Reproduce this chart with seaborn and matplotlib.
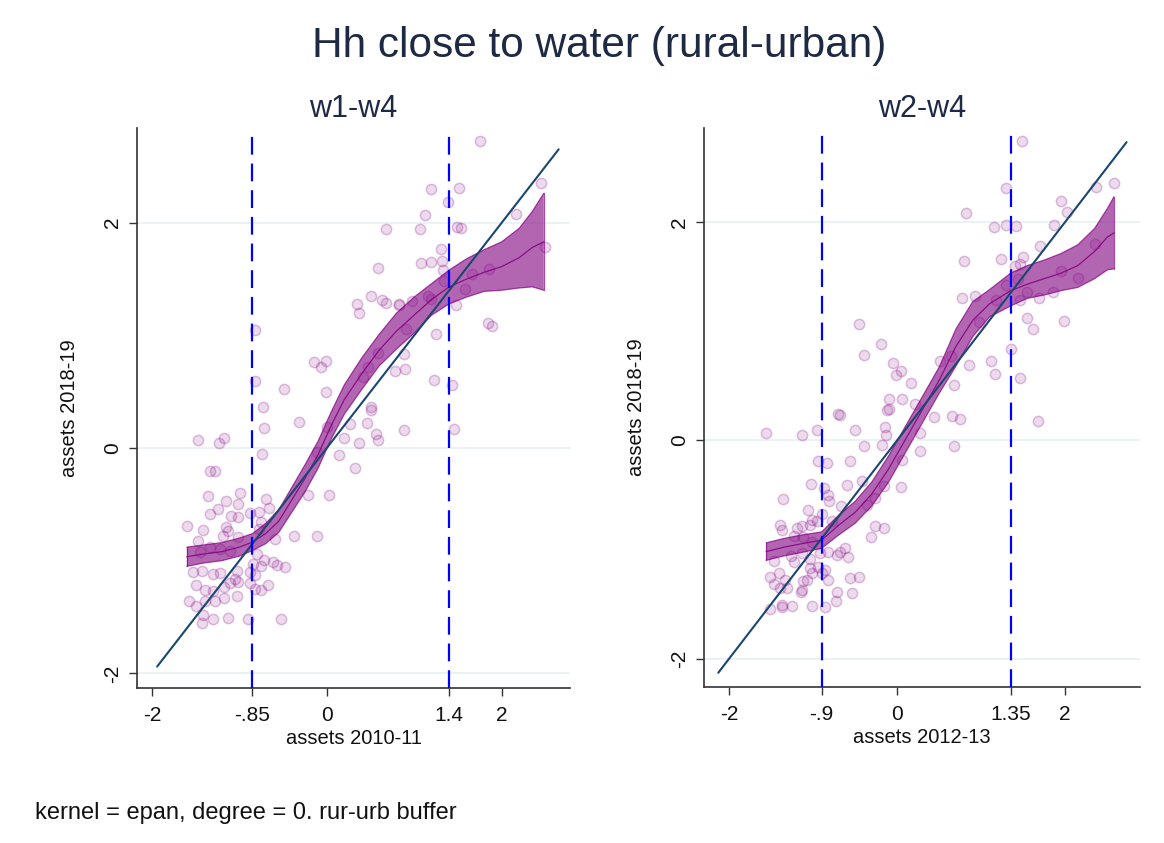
import numpy as np
import pandas as pd
import matplotlib
matplotlib.use("Agg")
import matplotlib.pyplot as plt
import seaborn as sns

# ---- scatter: w1-w4 (assets 2010-11 vs 2018-19) ----
w1_x = [1.75, 1.19, 1.51, 1.38, 1.12, 1.07, 1.49, 1.53, 2.16, 2.45, 2.49, 1.31, 1.08, 1.19, 1.32, 1.33,
        1.34, 1.66, 1.85, 1.58, 1.48, 1.16, 1.19, 0.97, 0.83, 0.90, 1.25, 1.84, 1.89, 0.88, 0.89, 1.22,
        1.43, 0.88, 1.45, 0.59, 0.50, 0.34, 0.37, 0.63, 0.68, 0.82, 0.58, 0.78, 0.47, 0.41, -0.15, -0.07,
        -0.01, -0.49, -0.01, 0.50, 0.50, 0.26, 0.46, -0.32, 0.00, 0.20, 0.37, 0.56, 0.59, 0.14, 0.32,
        -0.11, 0.03, -0.22, -0.38, -0.11, -0.72, -1.47, -1.23, -1.17, -0.74, -1.34, -1.28, -1.36, -1.15,
        -0.99, -1.01, -0.69, -0.66, -1.24, -1.34, -1.09, -1.02, -0.88, -0.77, -1.60, -1.42, -1.15, -1.13,
        -1.19, -0.75, -0.77, -1.47, -1.01, -0.59, -1.45, -1.34, -1.22, -1.11, -0.80, -0.72, -0.62, -0.57,
        -0.48, -0.84, -0.75, -1.53, -1.43, -1.30, -1.22, -1.03, -1.05, -0.88, -0.82, -0.88, -1.49, -1.39,
        -1.30, -1.17, -1.11, -1.01, -0.67, -0.75, -0.82, -1.57, -1.49, -1.39, -1.28, -1.17, -1.03, -1.41,
        -1.30, -1.13, -0.90, -0.52, -1.43, -0.73, -0.82, -0.82, 0.68]
w1_y = [2.72, 2.30, 2.31, 2.18, 2.07, 1.94, 1.96, 1.95, 2.08, 2.35, 1.78, 1.77, 1.64, 1.65, 1.66, 1.58,
        1.48, 1.54, 1.59, 1.41, 1.27, 1.35, 1.32, 1.30, 1.28, 1.06, 1.01, 1.11, 1.08, 0.83, 0.70, 0.60,
        0.56, 0.16, 0.17, 1.60, 1.35, 1.28, 1.20, 1.31, 1.29, 1.27, 0.84, 0.68, 0.72, 0.63, 0.76, 0.72,
        0.77, 0.52, 0.50, 0.36, 0.34, 0.21, 0.22, 0.23, 0.19, 0.09, 0.04, 0.12, 0.07, -0.06, -0.18,
        -0.04, -0.42, -0.42, -0.78, -0.78, 0.18, 0.07, 0.04, 0.09, -0.05, -0.20, -0.20, -0.43, -0.47,
        -0.40, -0.50, -0.45, -0.53, -0.54, -0.59, -0.60, -0.61, -0.58, -0.57, -0.69, -0.73, -0.70, -0.74,
        -0.78, -0.66, -0.72, -0.83, -0.79, -0.81, -0.92, -0.88, -0.90, -0.91, -0.94, -0.99, -1.01, -1.04,
        -1.06, -1.03, -1.05, -1.10, -1.09, -1.12, -1.11, -1.09, -1.16, -1.10, -1.13, -1.20, -1.22, -1.26,
        -1.27, -1.23, -1.20, -1.19, -1.22, -1.26, -1.25, -1.36, -1.40, -1.36, -1.36, -1.33, -1.31, -1.48,
        -1.52, -1.51, -1.52, -1.52, -1.55, 0.36, 1.05, 0.59, 1.94]

# ---- scatter: w2-w4 (assets 2012-13 vs 2018-19) ----
w2_x = [1.48, 1.29, 0.82, 1.15, 1.29, 1.41, 1.95, 2.02, 1.87, 2.37, 2.58, 1.70, 2.36, 0.80, 1.24, 1.50,
        1.40, 1.46, 1.95, 2.15, 1.29, 1.44, 0.77, 0.93, 1.17, 1.54, 1.69, 1.85, 1.46, 0.97, 1.54, 1.62,
        1.99, 1.35, 0.86, 1.12, 1.16, 1.46, 0.75, 1.67, -0.46, -0.19, -0.39, -0.05, -0.02, 0.04, 0.16,
        0.51, 0.64, 0.67, -0.10, -0.10, 0.06, 0.21, 0.44, 0.65, -0.68, -0.50, -0.14, -0.13, -0.40, -0.18,
        0.27, 0.27, 0.67, 0.06, -0.56, -0.60, -0.42, -0.16, 0.04, -0.36, -0.26, -0.27, -0.16, -0.31,
        -0.62, -0.58, -0.68, -1.56, -1.13, -0.96, -0.70, -0.12, -0.94, -0.83, -1.03, -0.87, -0.82, -0.81,
        -0.67, -1.36, -1.06, -0.90, -1.02, -0.96, -0.78, -1.39, -1.37, -1.19, -1.13, -1.04, -1.23, -1.12,
        -1.02, -0.72, -1.47, -1.27, -1.13, -1.04, -0.92, -0.82, -1.23, -1.04, -0.94, -0.86, -0.82, -0.90,
        -1.02, -1.07, -1.12, -1.13, -1.15, -1.51, -1.41, -1.33, -1.47, -1.31, -1.39, -0.56, -0.46, -0.72,
        -0.54, -0.73, -1.51, -1.37, -1.37, -1.25, -1.02, -0.86]
w2_y = [2.74, 2.31, 2.08, 1.95, 1.97, 1.96, 2.19, 2.09, 1.97, 2.32, 2.36, 1.78, 1.80, 1.64, 1.66, 1.68,
        1.60, 1.61, 1.55, 1.49, 1.42, 1.48, 1.30, 1.32, 1.28, 1.36, 1.30, 1.36, 1.28, 1.08, 1.12, 1.02,
        1.09, 0.84, 0.69, 0.73, 0.61, 0.57, 0.19, 0.18, 1.06, 0.88, 0.78, 0.71, 0.60, 0.63, 0.52,
        0.73, 0.77, 0.51, 0.38, 0.29, 0.38, 0.33, 0.21, 0.22, 0.23, 0.09, 0.12, 0.05, -0.05, -0.04,
        0.07, -0.10, -0.05, -0.18, -0.19, -0.41, -0.37, -0.42, -0.43, -0.59, -0.53, -0.79, -0.80, -0.89,
        -0.99, -1.07, -1.02, 0.07, 0.05, 0.09, 0.24, 0.28, -0.19, -0.21, -0.40, -0.44, -0.50, -0.56,
        -0.60, -0.54, -0.64, -0.68, -0.73, -0.74, -0.74, -0.78, -0.82, -0.80, -0.79, -0.78, -0.88, -0.89,
        -0.93, -1.05, -1.11, -1.06, -1.03, -1.09, -1.03, -1.02, -1.12, -1.17, -1.16, -1.19, -1.28, -1.22,
        -1.22, -1.28, -1.29, -1.37, -1.39, -1.25, -1.22, -1.28, -1.32, -1.35, -1.35, -1.26, -1.25, -1.39,
        -1.40, -1.47, -1.55, -1.51, -1.53, -1.52, -1.52, -1.53]

# ---- local-mean fits with 95% bands ----
w1_fit_x = [-1.60, -1.40, -1.20, -1.00, -0.85, -0.70, -0.55, -0.40, -0.25, -0.10, 0.05, 0.20,
            0.40, 0.60, 0.80, 1.00, 1.20, 1.40, 1.60, 1.80, 2.00, 2.20, 2.35, 2.48]
w1_fit = [-0.965, -0.94, -0.92, -0.88, -0.835, -0.76, -0.65, -0.46, -0.27, -0.06, 0.20, 0.43,
          0.66, 0.87, 1.04, 1.18, 1.32, 1.43, 1.50, 1.56, 1.61, 1.69, 1.78, 1.83]
w1_lo = [-1.05, -1.02, -1.00, -0.96, -0.91, -0.85, -0.75, -0.57, -0.39, -0.18, 0.08, 0.30,
         0.52, 0.73, 0.88, 1.02, 1.18, 1.28, 1.34, 1.39, 1.40, 1.42, 1.43, 1.40]
w1_hi = [-0.88, -0.86, -0.84, -0.80, -0.76, -0.67, -0.55, -0.35, -0.15, 0.06, 0.32, 0.56,
         0.80, 1.01, 1.20, 1.34, 1.46, 1.58, 1.68, 1.76, 1.83, 1.95, 2.10, 2.26]

w2_fit_x = [-1.56, -1.35, -1.15, -0.90, -0.70, -0.50, -0.30, -0.10, 0.10, 0.30, 0.50, 0.70,
            0.90, 1.10, 1.35, 1.55, 1.75, 1.95, 2.15, 2.35, 2.50, 2.58]
w2_fit = [-1.02, -0.98, -0.95, -0.915, -0.78, -0.66, -0.49, -0.26, 0.01, 0.28, 0.55, 0.86,
          1.10, 1.25, 1.37, 1.43, 1.48, 1.53, 1.60, 1.73, 1.86, 1.90]
w2_lo = [-1.10, -1.06, -1.03, -0.99, -0.87, -0.76, -0.60, -0.38, -0.11, 0.16, 0.43, 0.68,
         0.95, 1.13, 1.23, 1.30, 1.33, 1.37, 1.40, 1.48, 1.56, 1.57]
w2_hi = [-0.94, -0.90, -0.87, -0.84, -0.69, -0.56, -0.38, -0.14, 0.13, 0.40, 0.67, 1.02,
         1.27, 1.38, 1.53, 1.60, 1.65, 1.71, 1.79, 1.94, 2.12, 2.23]

# 45-degree reference line spans and buffer thresholds
w1_diag = [-1.94, 2.65]
w2_diag = [-2.13, 2.73]
w1_cuts = [-0.85, 1.4]
w2_cuts = [-0.9, 1.35]

w1_xticks = [-2, -0.85, 0, 1.4, 2]
w1_xticklabels = ["-2", "-.85", "0", "1.4", "2"]
w2_xticks = [-2, -0.9, 0, 1.35, 2]
w2_xticklabels = ["-2", "-.9", "0", "1.35", "2"]
yticks = [-2, 0, 2]
yticklabels = ["-2", "0", "2"]

sns.set_style("white")
plt.rcParams["font.family"] = ["Liberation Sans", "DejaVu Sans"]

PURPLE = "#800080"
NAVY = "#1a476f"
TXT = "#1e2a44"

fig = plt.figure(figsize=(11.64, 8.43), dpi=100)
ax1 = fig.add_axes([0.1177, 0.1839, 0.372, 0.6643])
ax2 = fig.add_axes([0.6048, 0.1851, 0.3746, 0.6631])

panels = [
    (ax1, w1_x, w1_y, w1_fit_x, w1_fit, w1_lo, w1_hi, w1_diag, w1_cuts, w1_xticks, w1_xticklabels,
     "w1-w4", "assets 2010-11", (-2.17, 2.78), (-2.13, 2.84)),
    (ax2, w2_x, w2_y, w2_fit_x, w2_fit, w2_lo, w2_hi, w2_diag, w2_cuts, w2_xticks, w2_xticklabels,
     "w2-w4", "assets 2012-13", (-2.30, 2.89), (-2.26, 2.86)),
]

for (ax, sx, sy, fx, fm, flo, fhi, diag, cuts, xt, xtl, sub, xlab, xlim, ylim) in panels:
    for yv in yticks:
        ax.axhline(yv, color="#e8f0f2", lw=1.2, zorder=0)

    pts = pd.DataFrame({"x": sx, "y": sy})
    sns.scatterplot(data=pts, x="x", y="y", ax=ax, s=55,
                    facecolor=(0.5, 0.0, 0.5, 0.14), edgecolor=(0.5, 0.0, 0.5, 0.24),
                    linewidth=1.1, zorder=2)

    ax.fill_between(fx, flo, fhi, facecolor=PURPLE, alpha=0.6, edgecolor="none", zorder=3)
    ax.plot(fx, flo, color=PURPLE, lw=0.9, alpha=0.7, zorder=3)
    ax.plot(fx, fhi, color=PURPLE, lw=0.9, alpha=0.7, zorder=3)
    ax.plot([fx[0], fx[0]], [flo[0], fhi[0]], color=PURPLE, lw=0.9, alpha=0.7, zorder=3)
    ax.plot([fx[-1], fx[-1]], [flo[-1], fhi[-1]], color=PURPLE, lw=0.9, alpha=0.7, zorder=3)
    fit = pd.DataFrame({"x": fx, "y": fm})
    sns.lineplot(data=fit, x="x", y="y", ax=ax, color=PURPLE, lw=0.9, alpha=0.85, zorder=4)

    dg = pd.DataFrame({"x": diag, "y": diag})
    sns.lineplot(data=dg, x="x", y="y", ax=ax, color=NAVY, lw=1.5, zorder=5)

    for c in cuts:
        ax.axvline(c, color="#0000ff", lw=1.6, dashes=(8, 4), zorder=6)

    ax.set_xlim(*xlim)
    ax.set_ylim(*ylim)
    ax.set_xticks(xt)
    ax.set_xticklabels(xtl, fontsize=15)
    ax.set_yticks(yticks)
    ax.set_yticklabels(yticklabels, fontsize=15, rotation=90, va="center")
    ax.tick_params(axis="x", direction="out", length=6, width=1, color="#333333",
                   bottom=True, pad=7, labelcolor="#111111")
    ax.tick_params(axis="y", direction="out", length=6, width=1, color="#333333",
                   left=True, pad=5, labelcolor="#111111")
    ax.set_xlabel(xlab, fontsize=14.5, color="#111111", labelpad=3)
    ax.set_ylabel("assets 2018-19", fontsize=14.5, color="#111111", labelpad=17)
    for side in ["top", "right"]:
        ax.spines[side].set_visible(False)
    for side in ["left", "bottom"]:
        ax.spines[side].set_color("#333333")
        ax.spines[side].set_linewidth(1.2)
    ax.set_title(sub, fontsize=22, color=TXT, pad=8)

fig.text(0.515, 0.945, "Hh close to water (rural-urban)", ha="center", va="center",
         fontsize=30.5, color=TXT)
fig.text(0.030, 0.036, "kernel = epan, degree = 0. rur-urb buffer", ha="left", va="center",
         fontsize=17, color="#111111")

fig.savefig("out.png", dpi=100, facecolor="white")
